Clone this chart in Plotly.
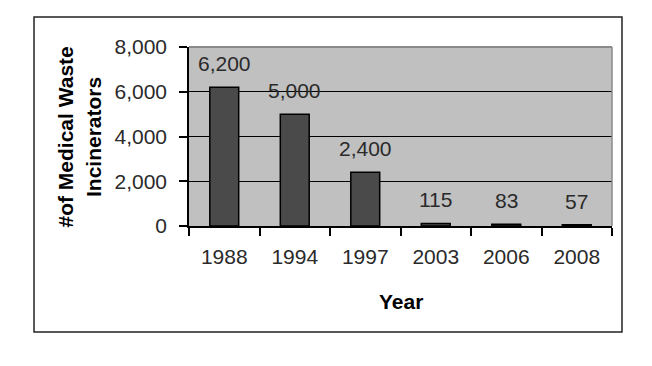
import plotly.graph_objects as go

years = ["1988", "1994", "1997", "2003", "2006", "2008"]
counts = [6200, 5000, 2400, 115, 83, 57]
count_labels = ["6,200", "5,000", "2,400", "115", "83", "57"]
y_ticks = [0, 2000, 4000, 6000, 8000]
y_tick_labels = ["0", "2,000", "4,000", "6,000", "8,000"]

FONT = "Liberation Sans, Arial, sans-serif"
TXT = "#2a2a2a"

fig = go.Figure()
fig.add_trace(go.Bar(
    x=years, y=counts,
    marker=dict(color="#4a4a4a", line=dict(color="#000000", width=1.5)),
    hoverinfo="skip",
))

# value labels: category index i (order of the years list) on the category axis
for i, (v, lab) in enumerate(zip(counts, count_labels)):
    fig.add_annotation(x=i, y=v, text=lab, showarrow=False,
                       xanchor="center", yanchor="bottom", yshift=10,
                       font=dict(family=FONT, size=21, color=TXT))

fig.add_annotation(xref="paper", yref="paper", x=-0.2589, y=0.497,
                   text="<b>#of Medical Waste<br>Incinerators</b>", textangle=-90,
                   showarrow=False, xanchor="center", yanchor="middle",
                   font=dict(family=FONT, size=21, color="#000000"))
fig.add_annotation(xref="paper", yref="paper", x=0.501, y=-0.419,
                   text="<b>Year</b>", showarrow=False,
                   xanchor="center", yanchor="middle",
                   font=dict(family=FONT, size=21, color="#000000"))

# plot-area top/right border (gray)
fig.add_shape(type="line", xref="paper", yref="paper", x0=0, x1=1, y0=1, y1=1,
              line=dict(color="#8a8a8a", width=2), layer="above")
fig.add_shape(type="line", xref="paper", yref="paper", x0=1, x1=1, y0=0, y1=1,
              line=dict(color="#8a8a8a", width=1.5), layer="above")
# outer chart border
fig.add_shape(type="rect", xref="paper", yref="paper",
              x0=-0.3664, x1=1.0236, y0=-0.592, y1=1.1676,
              line=dict(color="#222222", width=1.5), fillcolor="rgba(0,0,0,0)")

# figure sized to sit inside the window with the page's default 8px body margin
fig.update_layout(
    width=636, height=350,
    margin=dict(l=181, r=32, t=39, b=132, pad=0),
    paper_bgcolor="#ffffff", plot_bgcolor="#c0c0c0",
    showlegend=False, bargap=0.59,
    font=dict(family=FONT, size=21, color=TXT),
)
fig.update_xaxes(
    type="category", categoryorder="array", categoryarray=years,
    range=[-0.5, len(years) - 0.5],
    showgrid=False, showline=True, linecolor="#000000", linewidth=1.5,
    ticks="outside", ticklen=8, tickwidth=1.5, tickcolor="#000000",
    tickson="boundaries", ticklabelstandoff=11, tickangle=0,
    tickfont=dict(family=FONT, size=21, color=TXT), zeroline=False,
)
fig.update_yaxes(
    range=[0, 8000], tickvals=y_ticks, ticktext=y_tick_labels,
    showgrid=True, gridcolor="#000000", gridwidth=1,
    showline=True, linecolor="#000000", linewidth=1.5,
    ticks="outside", ticklen=8, tickwidth=1.5, tickcolor="#000000",
    ticklabelstandoff=8, zeroline=False,
    tickfont=dict(family=FONT, size=21, color=TXT),
)

fig.write_html("out.html")
